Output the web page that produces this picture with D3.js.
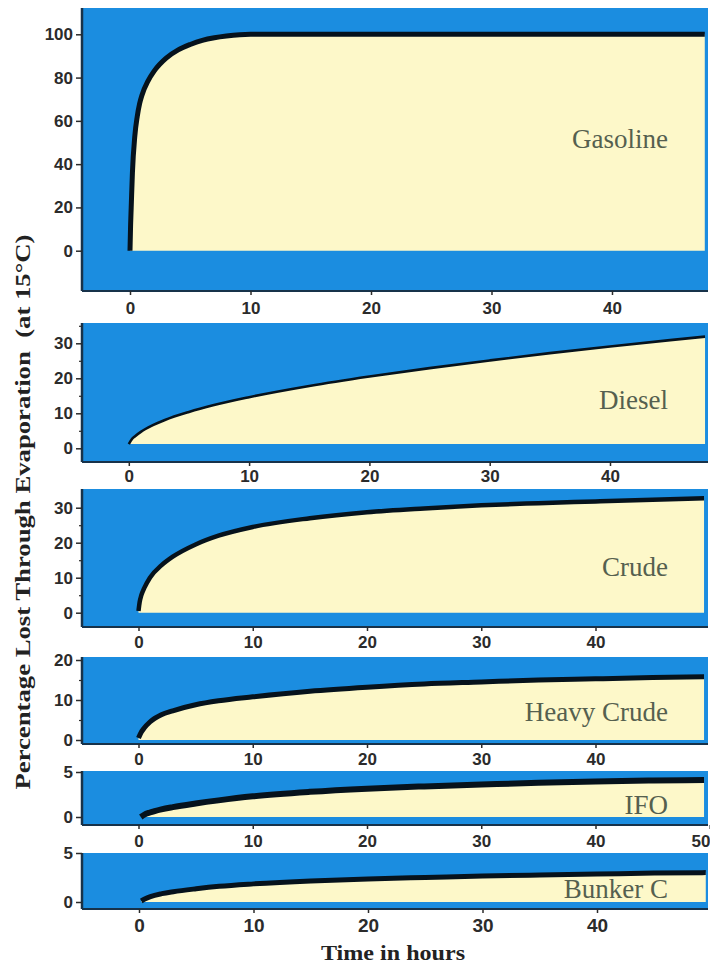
<!DOCTYPE html>
<html><head><meta charset="utf-8">
<script src="https://cdn.jsdelivr.net/npm/d3@7"></script>
<style>body{margin:0;background:#fff}svg{display:block}</style>
</head><body><svg id="c" width="710" height="967"></svg>
<script>
// ---------- data ----------
const categories = ["Gasoline", "Diesel", "Crude", "Heavy Crude", "IFO", "Bunker C"];

const gasolineT = [0, 0.05, 0.1, 0.2, 0.4, 0.6, 0.8, 1, 1.5, 2, 3, 4, 5, 6, 7, 8, 10, 15, 20, 30, 40, 47.7];
const gasolineV = [0, 12, 20, 36, 53, 62, 68, 72, 78.5, 83, 89, 92.8, 95.3, 97.2, 98.4, 99.2, 100, 100, 100, 100, 100, 100];

const dieselT = [0, 0.25, 0.5, 1, 2, 3, 5, 7, 10, 15, 20, 25, 30, 35, 40, 45, 47.9];
const dieselV = [1.2, 2.6, 3.4, 4.7, 6.6, 8.1, 10.4, 12.3, 14.6, 17.8, 20.5, 22.9, 25.1, 27.2, 29.1, 30.9, 31.9];

const crudeT = [0, 0.1, 0.25, 0.5, 1, 2, 3, 5, 7, 10, 15, 20, 25, 30, 35, 40, 45, 49.5];
const crudeV = [0.5, 3, 5, 7, 10, 13.5, 16, 19.5, 22, 24.5, 27, 28.7, 29.8, 30.7, 31.3, 31.8, 32.3, 32.7];

const heavyT = [0, 0.25, 0.5, 1, 2, 3, 5, 7, 10, 15, 20, 25, 30, 35, 40, 45, 49.5];
const heavyV = [0.5, 2, 3, 4.5, 6.3, 7.3, 8.8, 9.8, 10.8, 12.2, 13.2, 14, 14.5, 15, 15.3, 15.6, 15.8];

const ifoT = [0.2, 0.5, 1, 2, 3, 5, 7, 10, 15, 20, 25, 30, 35, 40, 45, 49.5];
const ifoV = [0, 0.25, 0.5, 0.85, 1.1, 1.5, 1.85, 2.3, 2.8, 3.15, 3.4, 3.6, 3.8, 3.95, 4.05, 4.1];

const bunkerT = [0.2, 0.5, 1, 2, 3, 5, 7, 10, 15, 20, 25, 30, 35, 40, 45, 49.5];
const bunkerV = [0.1, 0.3, 0.55, 0.85, 1.05, 1.35, 1.6, 1.85, 2.15, 2.35, 2.5, 2.65, 2.75, 2.85, 2.95, 3.0];

const baseValues = [0, 1.2, 0, 0, 0, 0];

const yTicks = [[0, 20, 40, 60, 80, 100], [0, 10, 20, 30], [0, 10, 20, 30], [0, 10, 20], [0, 5], [0, 5]];
const yMinorTicks = [[], [5, 15, 25, 35], [5, 15, 25], [5, 15], [], []];
const xTicks = [[0, 10, 20, 30, 40], [0, 10, 20, 30, 40], [0, 10, 20, 30, 40], [0, 10, 20, 30, 40], [0, 10, 20, 30, 40, 50], [0, 10, 20, 30, 40]];

const xTitle = "Time in hours";
const yTitle = "Percentage Lost Through Evaporation  (at 15°C)";

const seriesT = [gasolineT, dieselT, crudeT, heavyT, ifoT, bunkerT];
const seriesV = [gasolineV, dieselV, crudeV, heavyV, ifoV, bunkerV];

// ---------- layout ----------
const L = 82, R = 708;
const layout = [
  {top: 8,   bottom: 291, y0: 250.7, yt: 34.3, tv: 100, x0: 130,   x40: 612,   lw: 5,   lab: 148, tlab: 314, tfs: 17},
  {top: 323, bottom: 462, y0: 448.3, yt: 343.3, tv: 30, x0: 128.8, x40: 610,   lw: 2.6, lab: 409, tlab: 482, tfs: 17},
  {top: 489, bottom: 627, y0: 612.7, yt: 507.7, tv: 30, x0: 138.5, x40: 595.5, lw: 4.5, lab: 576, tlab: 648, tfs: 17},
  {top: 657, bottom: 744, y0: 740,   yt: 660,   tv: 20, x0: 138.5, x40: 595.5, lw: 5,   lab: 721, tlab: 765, tfs: 17},
  {top: 771, bottom: 825, y0: 817,   yt: 772,   tv: 5,  x0: 138.5, x40: 595.5, lw: 6,   lab: 814, tlab: 847, tfs: 17},
  {top: 853, bottom: 909, y0: 902,   yt: 853,   tv: 5,  x0: 139,   x40: 597,   lw: 5,   lab: 898, tlab: 932, tfs: 19}
];

const BLUE = "#1b8de0", YELLOW = "#fdf8c9", EDGE = "#17324a", INK = "#2b2b2b";
const svg = d3.select("#c");

layout.forEach((p, i) => {
  const x = d3.scaleLinear().domain([0, 40]).range([p.x0, p.x40]);
  const y = d3.scaleLinear().domain([0, p.tv]).range([p.y0, p.yt]);
  const g = svg.append("g");
  g.append("rect").attr("x", L).attr("y", p.top).attr("width", R - L).attr("height", p.bottom - p.top).attr("fill", BLUE);

  const pts = seriesT[i].map((t, k) => [t, seriesV[i][k]]);
  const area = d3.area().x(d => x(d[0])).y0(y(baseValues[i])).y1(d => y(d[1])).curve(d3.curveMonotoneX);
  const line = d3.line().x(d => x(d[0])).y(d => y(d[1])).curve(d3.curveMonotoneX);
  g.append("path").attr("d", area(pts)).attr("fill", YELLOW);
  g.append("path").attr("d", line(pts)).attr("fill", "none").attr("stroke", "#06121c").attr("stroke-width", p.lw);

  // frame edges
  g.append("line").attr("x1", L).attr("x2", L).attr("y1", p.top).attr("y2", p.bottom).attr("stroke", EDGE).attr("stroke-width", 2.5);
  g.append("line").attr("x1", L).attr("x2", R).attr("y1", p.bottom).attr("y2", p.bottom).attr("stroke", EDGE).attr("stroke-width", 2);

  // y axis
  const ya = d3.axisLeft(y).tickValues(yTicks[i]).tickSize(6).tickPadding(3).tickFormat(d3.format("d"));
  const yg = g.append("g").attr("transform", `translate(${L},0)`).call(ya);
  yg.select(".domain").remove();
  yg.selectAll(".tick line").attr("stroke", INK).attr("stroke-width", 1.5);
  yg.selectAll(".tick text").attr("font-family", "'Liberation Sans', Arial, sans-serif").attr("font-weight", "bold").attr("font-size", 17).attr("fill", INK);
  const ym = d3.axisLeft(y).tickValues(yMinorTicks[i]).tickSize(3).tickFormat("");
  const ymg = g.append("g").attr("transform", `translate(${L},0)`).call(ym);
  ymg.select(".domain").remove();
  ymg.selectAll(".tick line").attr("stroke", INK).attr("stroke-width", 1.2);

  // x axis
  const xa = d3.axisBottom(x).tickValues(xTicks[i]).tickSize(4).tickFormat(d3.format("d"));
  const xg = g.append("g").attr("transform", `translate(0,${p.bottom})`).call(xa);
  xg.select(".domain").remove();
  xg.selectAll(".tick line").attr("stroke", INK).attr("stroke-width", 1.5);
  xg.selectAll(".tick text").attr("y", null).attr("dy", null)
    .attr("transform", `translate(0,${p.tlab - p.bottom})`)
    .attr("font-family", "'Liberation Sans', Arial, sans-serif").attr("font-weight", "bold")
    .attr("font-size", p.tfs).attr("fill", INK)
    .attr("text-anchor", d => d === 50 ? "end" : "middle")
    .attr("x", d => d === 50 ? 710 - x(50) : 0);

  // category label
  g.append("text").attr("x", 668).attr("y", p.lab).attr("text-anchor", "end")
    .attr("font-family", "'Liberation Serif', 'Times New Roman', serif").attr("font-size", 27)
    .attr("fill", "#55604f").text(categories[i]);
});

svg.append("text").attr("x", 393).attr("y", 960).attr("text-anchor", "middle")
  .attr("font-family", "'Liberation Serif', 'Times New Roman', serif").attr("font-weight", "bold")
  .attr("font-size", 22).attr("fill", "#222").attr("textLength", 144).attr("lengthAdjust", "spacingAndGlyphs").text(xTitle);

svg.append("text").attr("transform", "translate(30,512) rotate(-90)").attr("text-anchor", "middle")
  .attr("font-family", "'Liberation Serif', 'Times New Roman', serif").attr("font-weight", "bold")
  .attr("font-size", 22).attr("fill", "#222").attr("textLength", 555).attr("lengthAdjust", "spacingAndGlyphs")
  .attr("xml:space", "preserve").style("white-space", "pre").text(yTitle);
</script></body></html>
